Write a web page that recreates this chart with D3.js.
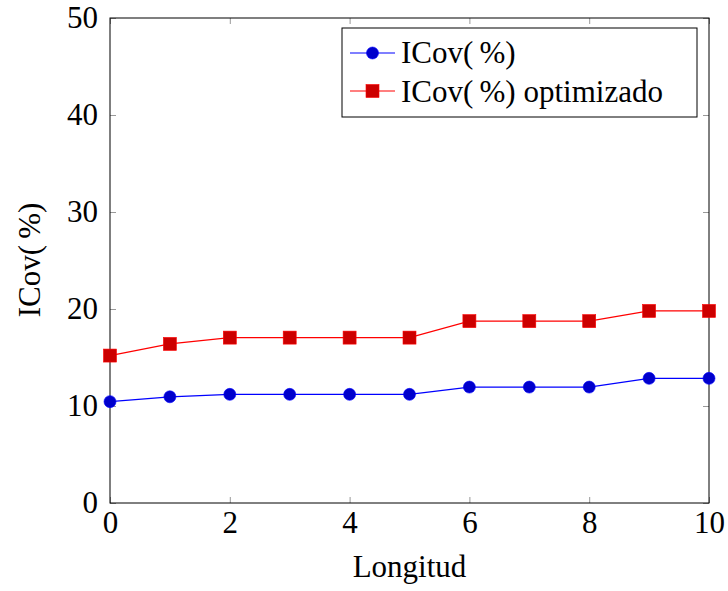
<!DOCTYPE html>
<html>
<head>
<meta charset="utf-8">
<script src="https://cdn.jsdelivr.net/npm/d3@7"></script>
<style>
  body { margin: 0; background: #fff; }
  svg text { font-family: 'Liberation Serif', 'DejaVu Serif', serif; fill: #000; }
</style>
</head>
<body>
<div id="chart"></div>
<script>
// data
const longitud = [0, 1, 2, 3, 4, 5, 6, 7, 8, 9, 10];
const icov = [10.45, 10.95, 11.2, 11.2, 11.2, 11.2, 11.95, 11.95, 11.95, 12.85, 12.85];
const icovOpt = [15.2, 16.4, 17.05, 17.05, 17.05, 17.05, 18.75, 18.75, 18.75, 19.8, 19.8];
const xTicks = [0, 2, 4, 6, 8, 10];
const yTicks = [0, 10, 20, 30, 40, 50];
const seriesNames = ['ICov(\u2009%)', 'ICov(\u2009%) optimizado'];

function drawChart() {
  const fontSize = '31px';
  const dimensions = {
    width: 728,
    height: 591,
    margin: { top: 18, right: 19, bottom: 88, left: 110 },
  };
  dimensions.boundedWidth =
    dimensions.width - dimensions.margin.left - dimensions.margin.right;
  dimensions.boundedHeight =
    dimensions.height - dimensions.margin.top - dimensions.margin.bottom;

  const xScale = d3.scaleLinear().domain([0, 10]).range([0, dimensions.boundedWidth]);
  const yScale = d3.scaleLinear().domain([0, 50]).range([dimensions.boundedHeight, 0]);

  const wrapper = d3
    .select('#chart')
    .append('svg')
    .attr('width', dimensions.width)
    .attr('height', dimensions.height);

  const bounds = wrapper
    .append('g')
    .attr('transform', `translate(${dimensions.margin.left},${dimensions.margin.top})`);

  // inward ticks on all four sides
  const tickLen = 6;
  const styleAxis = (g) => {
    g.select('.domain').remove();
    g.selectAll('.tick line').attr('stroke', '#999').attr('stroke-width', 1);
    g.selectAll('.tick text').style('font-size', fontSize);
  };

  bounds.append('g')
    .attr('transform', `translate(0,${dimensions.boundedHeight})`)
    .call(d3.axisBottom(xScale).tickValues(xTicks).tickSize(-tickLen).tickPadding(8).tickFormat(d3.format('d')))
    .call(styleAxis);
  bounds.append('g')
    .call(d3.axisTop(xScale).tickValues(xTicks).tickSize(-tickLen).tickFormat(''))
    .call(styleAxis);
  bounds.append('g')
    .call(d3.axisLeft(yScale).tickValues(yTicks).tickSize(-tickLen).tickPadding(12).tickFormat(d3.format('d')))
    .call(styleAxis);
  bounds.append('g')
    .attr('transform', `translate(${dimensions.boundedWidth},0)`)
    .call(d3.axisRight(yScale).tickValues(yTicks).tickSize(-tickLen).tickFormat(''))
    .call(styleAxis);

  bounds.append('rect')
    .attr('width', dimensions.boundedWidth)
    .attr('height', dimensions.boundedHeight)
    .attr('fill', 'none')
    .attr('stroke', '#000')
    .attr('stroke-width', 1);

  // axis labels
  wrapper.append('text')
    .attr('x', dimensions.margin.left + dimensions.boundedWidth / 2)
    .attr('y', 577)
    .attr('text-anchor', 'middle')
    .style('font-size', fontSize)
    .text('Longitud');

  wrapper.append('text')
    .attr('transform', 'translate(40,260) rotate(-90)')
    .attr('text-anchor', 'middle')
    .style('font-size', fontSize)
    .text(seriesNames[0]);

  // series
  const line = d3.line()
    .x((d, i) => xScale(longitud[i]))
    .y((d) => yScale(d));

  bounds.append('path')
    .datum(icov)
    .attr('fill', 'none')
    .attr('stroke', '#0000ff')
    .attr('stroke-width', 1.2)
    .attr('d', line);

  bounds.append('path')
    .datum(icovOpt)
    .attr('fill', 'none')
    .attr('stroke', '#ff0000')
    .attr('stroke-width', 1.2)
    .attr('d', line);

  bounds.selectAll('circle.pt')
    .data(icov)
    .enter()
    .append('circle')
    .attr('class', 'pt')
    .attr('cx', (d, i) => xScale(longitud[i]))
    .attr('cy', (d) => yScale(d))
    .attr('r', 6)
    .attr('fill', '#0000cc')
    .attr('stroke', '#0000ff')
    .attr('stroke-width', 0.6);

  const sq = 13;
  bounds.selectAll('rect.pt')
    .data(icovOpt)
    .enter()
    .append('rect')
    .attr('class', 'pt')
    .attr('x', (d, i) => xScale(longitud[i]) - sq / 2)
    .attr('y', (d) => yScale(d) - sq / 2)
    .attr('width', sq)
    .attr('height', sq)
    .attr('fill', '#cc0000')
    .attr('stroke', '#ff0000')
    .attr('stroke-width', 0.6);

  // legend
  const legend = wrapper.append('g').attr('transform', 'translate(342,28)');
  legend.append('rect')
    .attr('width', 355)
    .attr('height', 89)
    .attr('fill', '#fff')
    .attr('stroke', '#000')
    .attr('stroke-width', 1);

  const rows = [
    { y: 25, base: 35, color: '#0000ff', fill: '#0000cc', shape: 'circle' },
    { y: 63, base: 73.5, color: '#ff0000', fill: '#cc0000', shape: 'square' },
  ];
  rows.forEach((r, i) => {
    legend.append('line')
      .attr('x1', 8).attr('x2', 53)
      .attr('y1', r.y).attr('y2', r.y)
      .attr('stroke', r.color)
      .attr('stroke-width', 1.2);
    if (r.shape === 'circle') {
      legend.append('circle')
        .attr('cx', 30.5).attr('cy', r.y).attr('r', 6)
        .attr('fill', r.fill).attr('stroke', r.color).attr('stroke-width', 0.6);
    } else {
      legend.append('rect')
        .attr('x', 30.5 - sq / 2).attr('y', r.y - sq / 2)
        .attr('width', sq).attr('height', sq)
        .attr('fill', r.fill).attr('stroke', r.color).attr('stroke-width', 0.6);
    }
    legend.append('text')
      .attr('x', 59)
      .attr('y', r.base)
      .style('font-size', fontSize)
      .text(seriesNames[i]);
  });
}

drawChart();
</script>
</body>
</html>
